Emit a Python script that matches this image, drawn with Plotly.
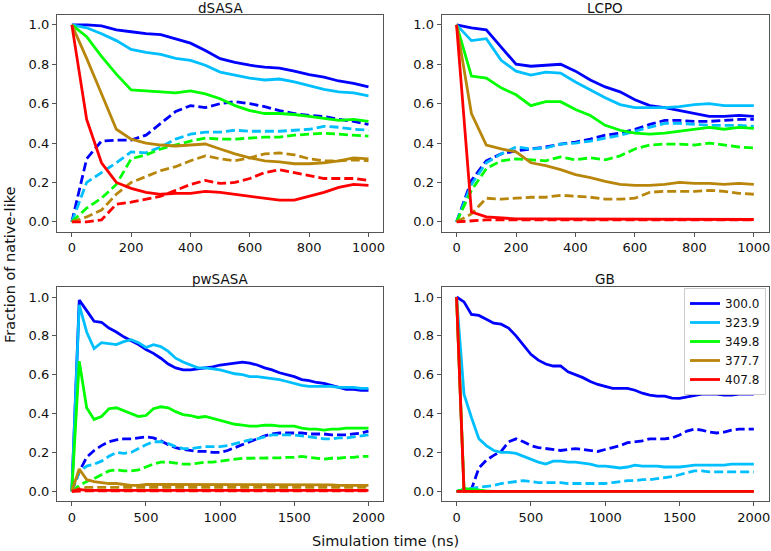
import plotly.graph_objects as go

temps = ["300.0", "323.9", "349.8", "377.7", "407.8"]
colors = ["#0000ff", "#00bfff", "#00ff00", "#b8860b", "#ff0000"]
titles = ["dSASA", "LCPO", "pwSASA", "GB"]

t_short = list(range(0, 1001, 50))
t_long = list(range(0, 2001, 50))

# ---- dSASA (0-1000 ns)
dsasa_solid_300 = [1.0, 1.0, 0.995, 0.975, 0.965, 0.955, 0.95, 0.93, 0.907, 0.87, 0.828, 0.81, 0.795, 0.785, 0.78, 0.765, 0.747, 0.735, 0.715, 0.703, 0.685]
dsasa_solid_323 = [1.0, 0.985, 0.955, 0.92, 0.875, 0.86, 0.85, 0.83, 0.82, 0.795, 0.76, 0.745, 0.73, 0.72, 0.725, 0.71, 0.69, 0.672, 0.66, 0.655, 0.64]
dsasa_solid_349 = [1.0, 0.94, 0.84, 0.75, 0.67, 0.665, 0.66, 0.655, 0.665, 0.65, 0.625, 0.59, 0.565, 0.55, 0.55, 0.545, 0.535, 0.525, 0.515, 0.52, 0.51]
dsasa_solid_377 = [1.0, 0.83, 0.65, 0.47, 0.42, 0.40, 0.39, 0.385, 0.39, 0.395, 0.37, 0.345, 0.325, 0.31, 0.305, 0.295, 0.295, 0.30, 0.31, 0.325, 0.32]
dsasa_solid_407 = [1.0, 0.52, 0.30, 0.20, 0.17, 0.15, 0.14, 0.145, 0.145, 0.155, 0.15, 0.14, 0.13, 0.12, 0.11, 0.11, 0.13, 0.15, 0.175, 0.19, 0.185]
dsasa_dashed_300 = [0.0, 0.32, 0.41, 0.415, 0.415, 0.44, 0.50, 0.56, 0.59, 0.58, 0.60, 0.61, 0.60, 0.585, 0.565, 0.55, 0.54, 0.535, 0.52, 0.51, 0.495]
dsasa_dashed_323 = [0.0, 0.20, 0.25, 0.30, 0.355, 0.35, 0.38, 0.42, 0.445, 0.455, 0.455, 0.465, 0.46, 0.46, 0.46, 0.465, 0.47, 0.485, 0.48, 0.47, 0.465]
dsasa_dashed_349 = [0.0, 0.07, 0.12, 0.19, 0.32, 0.34, 0.37, 0.39, 0.41, 0.425, 0.42, 0.42, 0.425, 0.43, 0.43, 0.44, 0.445, 0.45, 0.445, 0.44, 0.435]
dsasa_dashed_377 = [0.0, 0.025, 0.06, 0.14, 0.20, 0.23, 0.26, 0.28, 0.31, 0.335, 0.32, 0.31, 0.325, 0.345, 0.35, 0.34, 0.32, 0.31, 0.31, 0.315, 0.31]
dsasa_dashed_407 = [0.0, 0.0, 0.01, 0.09, 0.10, 0.115, 0.13, 0.16, 0.19, 0.21, 0.195, 0.20, 0.22, 0.25, 0.265, 0.25, 0.235, 0.22, 0.22, 0.22, 0.21]

# ---- LCPO (0-1000 ns)
lcpo_solid_300 = [1.0, 0.985, 0.975, 0.89, 0.80, 0.79, 0.795, 0.80, 0.765, 0.72, 0.685, 0.66, 0.62, 0.59, 0.58, 0.565, 0.55, 0.535, 0.535, 0.54, 0.535]
lcpo_solid_323 = [1.0, 0.92, 0.93, 0.82, 0.765, 0.745, 0.76, 0.755, 0.71, 0.67, 0.63, 0.595, 0.58, 0.58, 0.58, 0.585, 0.595, 0.60, 0.59, 0.59, 0.59]
lcpo_solid_349 = [1.0, 0.74, 0.73, 0.68, 0.645, 0.59, 0.61, 0.61, 0.57, 0.54, 0.49, 0.465, 0.45, 0.445, 0.45, 0.46, 0.47, 0.48, 0.47, 0.48, 0.475]
lcpo_solid_377 = [1.0, 0.55, 0.39, 0.37, 0.355, 0.30, 0.285, 0.265, 0.24, 0.225, 0.205, 0.19, 0.185, 0.185, 0.19, 0.20, 0.195, 0.195, 0.19, 0.195, 0.19]
lcpo_solid_407 = [1.0, 0.05, 0.025, 0.02, 0.015, 0.015, 0.015, 0.015, 0.015, 0.013, 0.013, 0.012, 0.012, 0.012, 0.013, 0.013, 0.012, 0.012, 0.012, 0.012, 0.012]
lcpo_dashed_300 = [0.0, 0.21, 0.31, 0.345, 0.36, 0.37, 0.38, 0.395, 0.405, 0.42, 0.44, 0.45, 0.47, 0.495, 0.515, 0.515, 0.51, 0.51, 0.515, 0.52, 0.52]
lcpo_dashed_323 = [0.0, 0.19, 0.30, 0.345, 0.38, 0.37, 0.375, 0.395, 0.40, 0.41, 0.425, 0.44, 0.46, 0.48, 0.50, 0.50, 0.495, 0.49, 0.49, 0.49, 0.485]
lcpo_dashed_349 = [0.0, 0.16, 0.27, 0.31, 0.32, 0.315, 0.31, 0.33, 0.315, 0.325, 0.315, 0.335, 0.37, 0.39, 0.395, 0.395, 0.39, 0.40, 0.39, 0.38, 0.375]
lcpo_dashed_377 = [0.0, 0.04, 0.12, 0.115, 0.12, 0.125, 0.125, 0.135, 0.13, 0.125, 0.115, 0.115, 0.12, 0.15, 0.155, 0.155, 0.155, 0.16, 0.155, 0.145, 0.14]
lcpo_dashed_407 = [0.0, 0.005, 0.01, 0.01, 0.01, 0.01, 0.01, 0.01, 0.01, 0.01, 0.01, 0.01, 0.01, 0.01, 0.01, 0.01, 0.01, 0.01, 0.01, 0.01, 0.01]

# ---- pwSASA (0-2000 ns)
pw_solid_300 = [0.0, 0.985, 0.93, 0.875, 0.87, 0.84, 0.82, 0.795, 0.775, 0.755, 0.73, 0.71, 0.685, 0.655, 0.635, 0.625, 0.625, 0.63, 0.635, 0.64, 0.65,
                0.655, 0.66, 0.665, 0.66, 0.65, 0.635, 0.625, 0.61, 0.60, 0.59, 0.575, 0.57, 0.56, 0.555, 0.545, 0.535, 0.525, 0.525, 0.52, 0.52]
pw_solid_323 = [0.0, 0.96, 0.82, 0.735, 0.765, 0.76, 0.755, 0.77, 0.78, 0.765, 0.74, 0.755, 0.745, 0.72, 0.685, 0.665, 0.65, 0.635, 0.635, 0.63, 0.625,
                0.615, 0.605, 0.60, 0.59, 0.59, 0.585, 0.58, 0.575, 0.565, 0.555, 0.545, 0.54, 0.54, 0.54, 0.54, 0.535, 0.535, 0.535, 0.53, 0.53]
pw_solid_349 = [0.0, 0.67, 0.43, 0.37, 0.385, 0.425, 0.43, 0.415, 0.40, 0.385, 0.39, 0.425, 0.435, 0.43, 0.41, 0.395, 0.39, 0.38, 0.385, 0.375, 0.365,
                0.355, 0.345, 0.34, 0.335, 0.335, 0.34, 0.34, 0.335, 0.335, 0.335, 0.325, 0.32, 0.32, 0.315, 0.32, 0.32, 0.325, 0.325, 0.325, 0.325]
pw_solid_377 = [0.0, 0.115, 0.06, 0.05, 0.045, 0.04, 0.04, 0.035, 0.03, 0.03, 0.035, 0.035, 0.035, 0.035, 0.035, 0.035, 0.035, 0.035, 0.035, 0.035, 0.035,
                0.035, 0.035, 0.035, 0.035, 0.033, 0.033, 0.033, 0.035, 0.035, 0.035, 0.033, 0.033, 0.033, 0.033, 0.033, 0.03, 0.03, 0.03, 0.03, 0.03]
pw_solid_407 = [0.0, 0.01, 0.005, 0.005, 0.005, 0.005, 0.005, 0.005, 0.005, 0.005, 0.005, 0.005, 0.005, 0.005, 0.005, 0.005, 0.005, 0.005, 0.005, 0.005, 0.005,
                0.005, 0.005, 0.005, 0.005, 0.005, 0.005, 0.005, 0.005, 0.005, 0.005, 0.005, 0.005, 0.005, 0.005, 0.005, 0.005, 0.005, 0.005, 0.005, 0.005]
pw_dashed_300 = [0.0, 0.10, 0.175, 0.21, 0.235, 0.255, 0.265, 0.27, 0.27, 0.275, 0.28, 0.275, 0.26, 0.24, 0.225, 0.215, 0.21, 0.205, 0.205, 0.20, 0.20,
                 0.21, 0.225, 0.24, 0.255, 0.27, 0.285, 0.295, 0.30, 0.30, 0.30, 0.30, 0.295, 0.295, 0.295, 0.29, 0.29, 0.29, 0.295, 0.30, 0.31]
pw_dashed_323 = [0.0, 0.10, 0.13, 0.14, 0.155, 0.18, 0.20, 0.195, 0.20, 0.22, 0.24, 0.255, 0.255, 0.245, 0.23, 0.22, 0.22, 0.225, 0.23, 0.23, 0.23,
                 0.235, 0.245, 0.255, 0.265, 0.27, 0.28, 0.29, 0.29, 0.29, 0.29, 0.285, 0.28, 0.275, 0.27, 0.27, 0.275, 0.275, 0.28, 0.285, 0.29]
pw_dashed_349 = [0.0, 0.03, 0.05, 0.065, 0.085, 0.105, 0.11, 0.105, 0.105, 0.11, 0.125, 0.14, 0.15, 0.15, 0.145, 0.14, 0.14, 0.145, 0.15, 0.15, 0.155,
                 0.16, 0.165, 0.17, 0.17, 0.17, 0.17, 0.172, 0.172, 0.175, 0.175, 0.18, 0.175, 0.17, 0.165, 0.17, 0.17, 0.175, 0.175, 0.18, 0.18]
pw_dashed_377 = [0.0, 0.015, 0.02, 0.02, 0.02, 0.02, 0.02, 0.02, 0.02, 0.02, 0.02, 0.02, 0.02, 0.02, 0.02, 0.02, 0.02, 0.02, 0.02, 0.02, 0.02,
                 0.02, 0.02, 0.02, 0.02, 0.02, 0.02, 0.02, 0.02, 0.02, 0.02, 0.02, 0.02, 0.02, 0.02, 0.02, 0.02, 0.02, 0.02, 0.02, 0.02]
pw_dashed_407 = [0.0, 0.002, 0.002, 0.002, 0.002, 0.002, 0.002, 0.002, 0.002, 0.002, 0.002, 0.002, 0.002, 0.002, 0.002, 0.002, 0.002, 0.002, 0.002, 0.002, 0.002,
                 0.002, 0.002, 0.002, 0.002, 0.002, 0.002, 0.002, 0.002, 0.002, 0.002, 0.002, 0.002, 0.002, 0.002, 0.002, 0.002, 0.002, 0.002, 0.002, 0.002]

# ---- GB (0-2000 ns)
gb_solid_300 = [1.0, 0.975, 0.91, 0.905, 0.885, 0.865, 0.86, 0.84, 0.80, 0.75, 0.705, 0.675, 0.655, 0.645, 0.645, 0.615, 0.60, 0.585, 0.565, 0.55, 0.54,
                0.53, 0.53, 0.53, 0.52, 0.505, 0.495, 0.49, 0.49, 0.48, 0.478, 0.485, 0.495, 0.50, 0.50, 0.50, 0.495, 0.495, 0.50, 0.50, 0.50]
gb_solid_323 = [1.0, 0.50, 0.38, 0.27, 0.235, 0.21, 0.20, 0.20, 0.195, 0.18, 0.165, 0.15, 0.14, 0.155, 0.155, 0.15, 0.15, 0.145, 0.14, 0.13, 0.13,
                0.125, 0.12, 0.125, 0.135, 0.13, 0.13, 0.13, 0.125, 0.125, 0.125, 0.13, 0.135, 0.135, 0.135, 0.135, 0.135, 0.14, 0.14, 0.14, 0.14]
gb_solid_349 = [1.0, 0.015, 0.01, 0.005, 0.002, 0.0, 0.0, 0.0, 0.0, 0.0, 0.0, 0.0, 0.0, 0.0, 0.0, 0.0, 0.0, 0.0, 0.0, 0.0, 0.0,
                0.0, 0.0, 0.0, 0.0, 0.0, 0.0, 0.0, 0.0, 0.0, 0.0, 0.0, 0.0, 0.0, 0.0, 0.0, 0.0, 0.0, 0.0, 0.0, 0.0]
gb_solid_377 = [1.0, 0.0, 0.0, 0.0, 0.0, 0.0, 0.0, 0.0, 0.0, 0.0, 0.0, 0.0, 0.0, 0.0, 0.0, 0.0, 0.0, 0.0, 0.0, 0.0, 0.0,
                0.0, 0.0, 0.0, 0.0, 0.0, 0.0, 0.0, 0.0, 0.0, 0.0, 0.0, 0.0, 0.0, 0.0, 0.0, 0.0, 0.0, 0.0, 0.0, 0.0]
gb_solid_407 = [1.0, 0.0, 0.0, 0.0, 0.0, 0.0, 0.0, 0.0, 0.0, 0.0, 0.0, 0.0, 0.0, 0.0, 0.0, 0.0, 0.0, 0.0, 0.0, 0.0, 0.0,
                0.0, 0.0, 0.0, 0.0, 0.0, 0.0, 0.0, 0.0, 0.0, 0.0, 0.0, 0.0, 0.0, 0.0, 0.0, 0.0, 0.0, 0.0, 0.0, 0.0]
gb_dashed_300 = [0.0, 0.005, 0.01, 0.12, 0.16, 0.185, 0.205, 0.255, 0.27, 0.255, 0.235, 0.225, 0.22, 0.215, 0.21, 0.215, 0.22, 0.215, 0.21, 0.205, 0.215,
                 0.225, 0.235, 0.25, 0.255, 0.26, 0.27, 0.27, 0.27, 0.275, 0.29, 0.31, 0.32, 0.315, 0.305, 0.30, 0.305, 0.315, 0.32, 0.32, 0.32]
gb_dashed_323 = [0.0, 0.01, 0.015, 0.02, 0.025, 0.03, 0.04, 0.045, 0.05, 0.055, 0.05, 0.045, 0.045, 0.045, 0.045, 0.04, 0.04, 0.04, 0.04, 0.04, 0.04,
                 0.045, 0.05, 0.055, 0.055, 0.06, 0.06, 0.065, 0.07, 0.075, 0.085, 0.095, 0.105, 0.105, 0.10, 0.10, 0.10, 0.10, 0.10, 0.10, 0.10]
gb_dashed_349 = [0.0, 0.01, 0.0, 0.0, 0.0, 0.0, 0.0, 0.0, 0.0, 0.0, 0.0, 0.0, 0.0, 0.0, 0.0, 0.0, 0.0, 0.0, 0.0, 0.0, 0.0,
                 0.0, 0.0, 0.0, 0.0, 0.0, 0.0, 0.0, 0.0, 0.0, 0.0, 0.0, 0.0, 0.0, 0.0, 0.0, 0.0, 0.0, 0.0, 0.0, 0.0]
gb_dashed_377 = [0.0, 0.0, 0.0, 0.0, 0.0, 0.0, 0.0, 0.0, 0.0, 0.0, 0.0, 0.0, 0.0, 0.0, 0.0, 0.0, 0.0, 0.0, 0.0, 0.0, 0.0,
                 0.0, 0.0, 0.0, 0.0, 0.0, 0.0, 0.0, 0.0, 0.0, 0.0, 0.0, 0.0, 0.0, 0.0, 0.0, 0.0, 0.0, 0.0, 0.0, 0.0]
gb_dashed_407 = [0.0, 0.0, 0.0, 0.0, 0.0, 0.0, 0.0, 0.0, 0.0, 0.0, 0.0, 0.0, 0.0, 0.0, 0.0, 0.0, 0.0, 0.0, 0.0, 0.0, 0.0,
                 0.0, 0.0, 0.0, 0.0, 0.0, 0.0, 0.0, 0.0, 0.0, 0.0, 0.0, 0.0, 0.0, 0.0, 0.0, 0.0, 0.0, 0.0, 0.0, 0.0]

panels = [
    (t_short, [dsasa_solid_300, dsasa_solid_323, dsasa_solid_349, dsasa_solid_377, dsasa_solid_407],
              [dsasa_dashed_300, dsasa_dashed_323, dsasa_dashed_349, dsasa_dashed_377, dsasa_dashed_407]),
    (t_short, [lcpo_solid_300, lcpo_solid_323, lcpo_solid_349, lcpo_solid_377, lcpo_solid_407],
              [lcpo_dashed_300, lcpo_dashed_323, lcpo_dashed_349, lcpo_dashed_377, lcpo_dashed_407]),
    (t_long, [pw_solid_300, pw_solid_323, pw_solid_349, pw_solid_377, pw_solid_407],
             [pw_dashed_300, pw_dashed_323, pw_dashed_349, pw_dashed_377, pw_dashed_407]),
    (t_long, [gb_solid_300, gb_solid_323, gb_solid_349, gb_solid_377, gb_solid_407],
             [gb_dashed_300, gb_dashed_323, gb_dashed_349, gb_dashed_377, gb_dashed_407]),
]

W, H = 771, 551
xdoms = [[57 / W, 383.3 / W], [441.7 / W, 768.7 / W]]
ydoms = [[1 - 231.7 / H, 1 - 15 / H], [1 - 501 / H, 1 - 287.3 / H]]
title_y = [1 - 7.5 / H, 1 - 279 / H]
FONT = "DejaVu Sans, Verdana, sans-serif"

fig = go.Figure()
LW = 2.8
for p, (tt, solids, dashes) in enumerate(panels):
    ax = "" if p == 0 else str(p + 1)
    for i in range(5):
        fig.add_trace(go.Scatter(
            x=tt, y=dashes[i], mode="lines", xaxis="x" + ax, yaxis="y" + ax,
            line=dict(color=colors[i], width=LW, dash="9px,4px"),
            showlegend=False, hoverinfo="skip"))
    for i in range(5):
        fig.add_trace(go.Scatter(
            x=tt, y=solids[i], mode="lines", xaxis="x" + ax, yaxis="y" + ax,
            line=dict(color=colors[i], width=LW), name=temps[i],
            showlegend=(p == 3), legendrank=i + 1))

axis_common = dict(showline=True, mirror=True, linecolor="#555555", linewidth=1.2,
                   ticks="outside", ticklen=4, tickcolor="#555555", tickwidth=1,
                   showgrid=False, zeroline=False, ticklabeloverflow="allow",
                   tickfont=dict(family=FONT, size=13, color="#111111"))
layout = dict(width=W, height=H, margin=dict(l=0, r=0, t=0, b=0, autoexpand=False),
              plot_bgcolor="white", paper_bgcolor="white",
              font=dict(family=FONT, color="#111111"))
annotations = []
for p in range(4):
    r, c = divmod(p, 2)
    xa = "xaxis" if p == 0 else "xaxis" + str(p + 1)
    ya = "yaxis" if p == 0 else "yaxis" + str(p + 1)
    xr = [-50, 1050] if r == 0 else [-100, 2100]
    xticks = [0, 200, 400, 600, 800, 1000] if r == 0 else [0, 500, 1000, 1500, 2000]
    layout[xa] = dict(axis_common, domain=xdoms[c], range=xr, tickvals=xticks,
                      anchor="y" if p == 0 else "y" + str(p + 1))
    layout[ya] = dict(axis_common, domain=ydoms[r], range=[-0.05, 1.05],
                      tickvals=[0, 0.2, 0.4, 0.6, 0.8, 1.0], tickformat=".1f",
                      anchor="x" if p == 0 else "x" + str(p + 1))
    annotations.append(dict(text=titles[p], xref="paper", yref="paper",
                            x=sum(xdoms[c]) / 2, y=title_y[r],
                            xanchor="center", yanchor="middle", showarrow=False,
                            borderpad=0,
                            font=dict(family=FONT, size=13.5, color="#111111")))
annotations.append(dict(text="Simulation time (ns)", xref="paper", yref="paper",
                        x=385 / W, y=1 - 541 / H, xanchor="center", yanchor="middle",
                        borderpad=0,
                        showarrow=False, font=dict(family=FONT, size=14.5, color="#111111")))
annotations.append(dict(text="Fraction of native-like", xref="paper", yref="paper",
                        x=10 / W, y=1 - 265 / H, xanchor="center", yanchor="middle",
                        textangle=-90, showarrow=False,
                        font=dict(family=FONT, size=14.5, color="#111111")))
layout["annotations"] = annotations
layout["legend"] = dict(x=684 / W, y=1 - 288 / H, xanchor="left", yanchor="top",
                        bgcolor="white", bordercolor="#cccccc", borderwidth=1,
                        font=dict(family=FONT, size=12, color="#111111"),
                        tracegroupgap=0, itemwidth=30)
fig.update_layout(**layout)
fig.write_html("out.html", config={"displayModeBar": False},
               post_script="document.body.style.margin='0';document.body.style.padding='0';"
                           "document.body.style.overflow='hidden';")
